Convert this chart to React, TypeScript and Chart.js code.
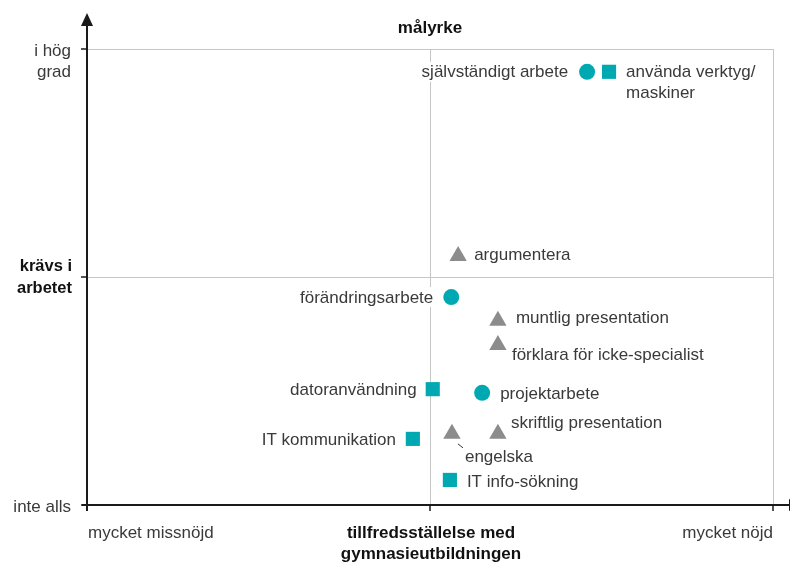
import React, { useEffect, useRef } from "react";
import { Chart, registerables } from "chart.js";

Chart.register(...registerables);

// ---- data (x: satisfaction 0..100, y: required at work 0..100) ----
const circleNames = ["självständigt arbete", "förändringsarbete", "projektarbete"];
const circleX = [72.9, 53.1, 57.6];
const circleY = [95.0, 45.6, 24.6];

const squareNames = ["använda verktyg/\nmaskiner", "datoranvändning", "IT kommunikation", "IT info-sökning"];
const squareX = [76.1, 50.4, 47.5, 52.9];
const squareY = [95.0, 25.4, 14.5, 5.5];

const triangleNames = [
  "argumentera",
  "muntlig presentation",
  "förklara för icke-specialist",
  "skriftlig presentation",
  "engelska",
];
const triangleX = [54.1, 59.9, 59.9, 59.9, 53.2];
const triangleY = [54.6, 40.4, 35.1, 15.6, 15.6];

const xTickValues = [0, 50, 100];
const yTickValues = [0, 50, 100];
const xTickLabels = ["mycket missnöjd", "", "mycket nöjd"];
const yTickLabels = ["inte alls", "", "i hög\ngrad"];
const xTitle = "tillfredsställelse med\ngymnasieutbildningen";
const yTitle = "krävs i\narbetet";
const topTitle = "målyrke";

// ---- label layout (offsets in px from the marker, alignment) ----
type LabelPos = { dx: number; dy: number; align: CanvasTextAlign; leader?: number[] };
const circleLabelPos: LabelPos[] = [
  { dx: -19, dy: 0, align: "right" },
  { dx: -18, dy: 0, align: "right" },
  { dx: 18, dy: 0, align: "left" },
];
const squareLabelPos: LabelPos[] = [
  { dx: 17, dy: 0, align: "left" },
  { dx: -16, dy: 0, align: "right" },
  { dx: -17, dy: 0, align: "right" },
  { dx: 17, dy: 1, align: "left" },
];
const triangleLabelPos: LabelPos[] = [
  { dx: 16, dy: -2, align: "left" },
  { dx: 18, dy: -3, align: "left" },
  { dx: 14, dy: 9, align: "left" },
  { dx: 13, dy: -12, align: "left" },
  { dx: 13, dy: 22, align: "left", leader: [6, 10, 11, 14] },
];

const TEAL = "#00a9b1";
const GRAY = "#8c8c8c";
const FONT = '"Liberation Sans", Arial, sans-serif';
const TEXT = "#3a3a3a";

const decorPlugin = {
  id: "decor",
  beforeDatasetsDraw(chart: any) {
    const { ctx } = chart;
    const xs = chart.scales.x;
    const ys = chart.scales.y;
    const X = (v: number) => xs.getPixelForValue(v);
    const Y = (v: number) => ys.getPixelForValue(v);
    const line = (a: number, b: number, c: number, d: number) => {
      ctx.beginPath();
      ctx.moveTo(a, b);
      ctx.lineTo(c, d);
      ctx.stroke();
    };
    ctx.save();
    // grid
    ctx.strokeStyle = "#c6c6c6";
    ctx.lineWidth = 1;
    xTickValues.slice(1).forEach((v) => {
      const px = Math.round(X(v)) + 0.5;
      line(px, Y(100), px, Y(0));
    });
    yTickValues.slice(1).forEach((v) => {
      const py = Math.round(Y(v)) + 0.5;
      line(X(0), py, X(100), py);
    });
    // axes
    ctx.strokeStyle = "#1a1a1a";
    ctx.fillStyle = "#1a1a1a";
    ctx.lineWidth = 2;
    const ax = X(0);
    const ay = Y(0);
    line(ax, 24, ax, ay + 6);
    line(ax - 5, ay, chart.width + 10, ay);
    // arrow up
    ctx.beginPath();
    ctx.moveTo(ax, 13);
    ctx.lineTo(ax - 6, 26);
    ctx.lineTo(ax + 6, 26);
    ctx.closePath();
    ctx.fill();
    // arrow right (mostly off-canvas)
    ctx.beginPath();
    ctx.moveTo(chart.width + 12, ay);
    ctx.lineTo(chart.width - 1, ay - 6);
    ctx.lineTo(chart.width - 1, ay + 6);
    ctx.closePath();
    ctx.fill();
    // ticks
    ctx.lineWidth = 1.5;
    yTickValues.forEach((v) => line(ax - 6, Y(v), ax, Y(v)));
    xTickValues.slice(1).forEach((v) => line(X(v), ay, X(v), ay + 6));

    // tick labels
    ctx.font = "17px " + FONT;
    ctx.fillStyle = TEXT;
    ctx.textBaseline = "middle";
    ctx.textAlign = "right";
    yTickValues.forEach((v, i) => {
      const lines = yTickLabels[i].split("\n");
      lines.forEach((t, k) => ctx.fillText(t, 71, Y(v) + 2 + k * 21));
    });
    ctx.textAlign = "left";
    ctx.fillText(xTickLabels[0], X(xTickValues[0]) + 1, ay + 28);
    ctx.textAlign = "right";
    ctx.fillText(xTickLabels[2], X(xTickValues[2]), ay + 28);

    // titles
    ctx.font = "bold 17px " + FONT;
    ctx.fillStyle = "#111";
    ctx.textAlign = "center";
    ctx.fillText(topTitle, X(50), 28);
    xTitle.split("\n").forEach((t, k) => ctx.fillText(t, X(50) + 1, ay + 28 + k * 21));
    ctx.font = "bold 16.5px " + FONT;
    ctx.textAlign = "right";
    yTitle.split("\n").forEach((t, k) => ctx.fillText(t, 72, Y(50) - 11 + k * 22));
    ctx.restore();
  },
  afterDatasetsDraw(chart: any) {
    const { ctx } = chart;
    const groups: [string[], LabelPos[]][] = [
      [circleNames, circleLabelPos],
      [squareNames, squareLabelPos],
      [triangleNames, triangleLabelPos],
    ];
    ctx.save();
    ctx.font = "17px " + FONT;
    ctx.textBaseline = "middle";
    groups.forEach(([names, pos], di) => {
      const meta = chart.getDatasetMeta(di);
      meta.data.forEach((el: any, i: number) => {
        const p = pos[i];
        const lines = names[i].split("\n");
        const tx = el.x + p.dx;
        const ty = el.y + p.dy;
        lines.forEach((t, k) => {
          const w = ctx.measureText(t).width;
          const left = p.align === "right" ? tx - w : tx;
          ctx.fillStyle = "#fff";
          ctx.fillRect(left - 2, ty + k * 21 - 10, w + 4, 20);
          ctx.fillStyle = TEXT;
          ctx.textAlign = p.align;
          ctx.fillText(t, tx, ty + k * 21 + 1);
        });
        if (p.leader) {
          ctx.strokeStyle = "#333";
          ctx.lineWidth = 1;
          ctx.beginPath();
          ctx.moveTo(el.x + p.leader[0], el.y + p.leader[1]);
          ctx.lineTo(el.x + p.leader[2], el.y + p.leader[3]);
          ctx.stroke();
        }
      });
    });
    ctx.restore();
  },
};

export default function App() {
  const ref = useRef<HTMLCanvasElement | null>(null);
  useEffect(() => {
    if (!ref.current) return;
    const toPts = (xs: number[], ys: number[]) => xs.map((x, i) => ({ x, y: ys[i] }));
    const chart = new Chart(ref.current, {
      type: "scatter",
      data: {
        datasets: [
          {
            label: "circles",
            data: toPts(circleX, circleY),
            pointStyle: "circle",
            pointRadius: 8,
            backgroundColor: TEAL,
            borderWidth: 0,
            clip: false,
          } as any,
          {
            label: "squares",
            data: toPts(squareX, squareY),
            pointStyle: "rect",
            pointRadius: 10,
            backgroundColor: TEAL,
            borderWidth: 0,
            clip: false,
          } as any,
          {
            label: "triangles",
            data: toPts(triangleX, triangleY),
            pointStyle: "triangle",
            pointRadius: 10,
            backgroundColor: GRAY,
            borderWidth: 0,
            clip: false,
          } as any,
        ],
      },
      options: {
        responsive: false,
        animation: false,
        devicePixelRatio: 1,
        events: [],
        layout: { padding: { left: 87, right: 17, top: 49, bottom: 57 } },
        scales: {
          x: { type: "linear", min: 0, max: 100, display: false },
          y: { type: "linear", min: 0, max: 100, display: false },
        },
        plugins: { legend: { display: false }, tooltip: { enabled: false } },
      },
      plugins: [decorPlugin],
    });
    return () => chart.destroy();
  }, []);
  return (
    <div style={{ position: "absolute", left: 0, top: 0, width: 790, height: 562, background: "#fff" }}>
      <canvas ref={ref} width={790} height={562} style={{ display: "block" }} />
    </div>
  );
}
